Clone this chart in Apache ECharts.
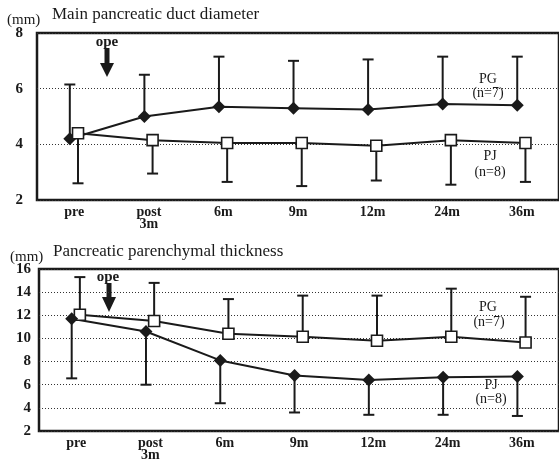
<!DOCTYPE html>
<html>
<head>
<meta charset="utf-8">
<script src="https://cdn.jsdelivr.net/npm/echarts@6/dist/echarts.min.js"></script>
<style>
    html, body { margin: 0; padding: 0; background: #fff; }
    #chart { width: 559px; height: 462px; }
</style>
</head>
<body>
<div id="chart"></div>
<script>
// time points
const categories = ['pre', 'post\n3m', '6m', '9m', '12m', '24m', '36m']
const ductTicks = [2, 4, 6, 8]
const thickTicks = [2, 4, 6, 8, 10, 12, 14, 16]

// main pancreatic duct diameter (mm)
const ductPG = [4.2, 5.0, 5.35, 5.3, 5.25, 5.45, 5.4]
const ductPGUpper = [6.15, 6.5, 7.15, 7.0, 7.05, 7.15, 7.15]
const ductPJ = [4.4, 4.15, 4.05, 4.05, 3.95, 4.15, 4.05]
const ductPJLower = [2.6, 2.95, 2.65, 2.5, 2.7, 2.55, 2.65]

// pancreatic parenchymal thickness (mm)
const thickPG = [12.05, 11.5, 10.4, 10.15, 9.8, 10.15, 9.65]
const thickPGUpper = [15.3, 14.8, 13.4, 13.7, 13.7, 14.3, 13.6]
const thickPJ = [11.7, 10.6, 8.1, 6.8, 6.4, 6.65, 6.7]
const thickPJLower = [6.55, 6.0, 4.4, 3.6, 3.4, 3.4, 3.3]

const serif = '"Liberation Serif", "DejaVu Serif", serif'
const ink = '#1a1a1a'
const offDiamond = -0.06
const offSquare = 0.05

const chart = echarts.init(document.getElementById('chart'))

const toPoints = (vals, off) => vals.map((v, i) => [i + off, v])

const errorBars = (gi, vals, ends, off) => ({
    type: 'custom',
    xAxisIndex: gi * 2 + 1,
    yAxisIndex: gi,
    z: 1,
    silent: true,
    data: vals.map((v, i) => [i + off, v, ends[i]]),
    renderItem: (params, api) => {
        const p0 = api.coord([api.value(0), api.value(1)])
        const p1 = api.coord([api.value(0), api.value(2)])
        const style = { stroke: ink, lineWidth: 2 }
        return {
            type: 'group',
            children: [
                { type: 'line', shape: { x1: p0[0], y1: p0[1], x2: p1[0], y2: p1[1] }, style },
                { type: 'line', shape: { x1: p1[0] - 5.5, y1: p1[1], x2: p1[0] + 5.5, y2: p1[1] }, style }
            ]
        }
    }
})

const lineSeries = (gi, vals, off, kind) => ({
    type: 'line',
    xAxisIndex: gi * 2 + 1,
    yAxisIndex: gi,
    z: 3,
    data: toPoints(vals, off),
    symbol: kind === 'diamond' ? 'diamond' : 'rect',
    symbolSize: kind === 'diamond' ? [13, 13] : [11, 11],
    lineStyle: { color: ink, width: 2 },
    itemStyle: kind === 'diamond'
        ? { color: ink, borderColor: ink, borderWidth: 0 }
        : { color: '#fff', borderColor: ink, borderWidth: 1.6 },
    animation: false
})

const catAxis = (gi) => ({
    type: 'category',
    gridIndex: gi,
    data: categories,
    boundaryGap: true,
    axisLine: { show: false },
    axisTick: { show: false },
    axisLabel: {
        margin: 6,
        fontFamily: serif,
        fontSize: 14,
        fontWeight: 'bold',
        color: ink,
        lineHeight: 12,
        verticalAlign: 'top'
    }
})

const valXAxis = (gi) => ({
    type: 'value',
    gridIndex: gi,
    min: -0.5,
    max: 6.5,
    show: false
})

const yAxis = (gi, ticks, margin) => ({
    type: 'value',
    gridIndex: gi,
    min: ticks[0],
    max: ticks[ticks.length - 1],
    interval: 2,
    axisLine: { show: false },
    axisTick: { show: false },
    axisLabel: {
        margin: margin,
        fontFamily: serif,
        fontSize: 15,
        fontWeight: 'bold',
        color: ink
    },
    splitLine: {
        show: true,
        lineStyle: { color: '#333', type: [1, 2], width: 1 }
    }
})

const txt = (x, y, text, size, align, weight) => ({
    type: 'text',
    x: x,
    y: y,
    style: {
        text: text,
        fontFamily: serif,
        fontSize: size,
        fontWeight: weight || 'normal',
        fill: ink,
        align: align || 'left',
        verticalAlign: 'middle'
    }
})

const arrow = (cx, y0, y1, y2) => ([
    { type: 'rect', shape: { x: cx - 2.5, y: y0, width: 5, height: y1 - y0 }, style: { fill: ink } },
    { type: 'polygon', shape: { points: [[cx - 7, y1], [cx + 7, y1], [cx, y2]] }, style: { fill: ink } }
])

chart.setOption({
    backgroundColor: '#fff',
    animation: false,
    grid: [
        { left: 37, top: 33, width: 528, height: 167, show: true, borderColor: ink, borderWidth: 2.5 },
        { left: 39, top: 269, width: 528, height: 163, show: true, borderColor: ink, borderWidth: 2.5 }
    ],
    xAxis: [catAxis(0), valXAxis(0), catAxis(1), valXAxis(1)],
    yAxis: [yAxis(0, ductTicks, 14), yAxis(1, thickTicks, 8)],
    series: [
        errorBars(0, ductPG, ductPGUpper, offDiamond),
        errorBars(0, ductPJ, ductPJLower, offSquare),
        lineSeries(0, ductPG, offDiamond, 'diamond'),
        lineSeries(0, ductPJ, offSquare, 'square'),
        errorBars(1, thickPG, thickPGUpper, offSquare),
        errorBars(1, thickPJ, thickPJLower, offDiamond),
        lineSeries(1, thickPG, offSquare, 'square'),
        lineSeries(1, thickPJ, offDiamond, 'diamond')
    ],
    graphic: [
        txt(7, 20, '(mm)', 15),
        txt(52, 15, 'Main pancreatic duct diameter', 17),
        txt(10, 257, '(mm)', 15),
        txt(53, 252, 'Pancreatic parenchymal thickness', 17),
        txt(107, 42, 'ope', 15, 'center', 'bold'),
        txt(108, 277, 'ope', 15, 'center', 'bold'),
        ...arrow(107, 48, 63, 77),
        ...arrow(109, 283, 297, 312),
        txt(488, 79, 'PG', 14, 'center'),
        txt(488, 93, '(n=7)', 14, 'center'),
        txt(490, 156, 'PJ', 14, 'center'),
        txt(490, 172, '(n=8)', 14, 'center'),
        txt(488, 307, 'PG', 14, 'center'),
        txt(489, 322, '(n=7)', 14, 'center'),
        txt(491, 385, 'PJ', 14, 'center'),
        txt(491, 399, '(n=8)', 14, 'center')
    ]
})
</script>
</body>
</html>
